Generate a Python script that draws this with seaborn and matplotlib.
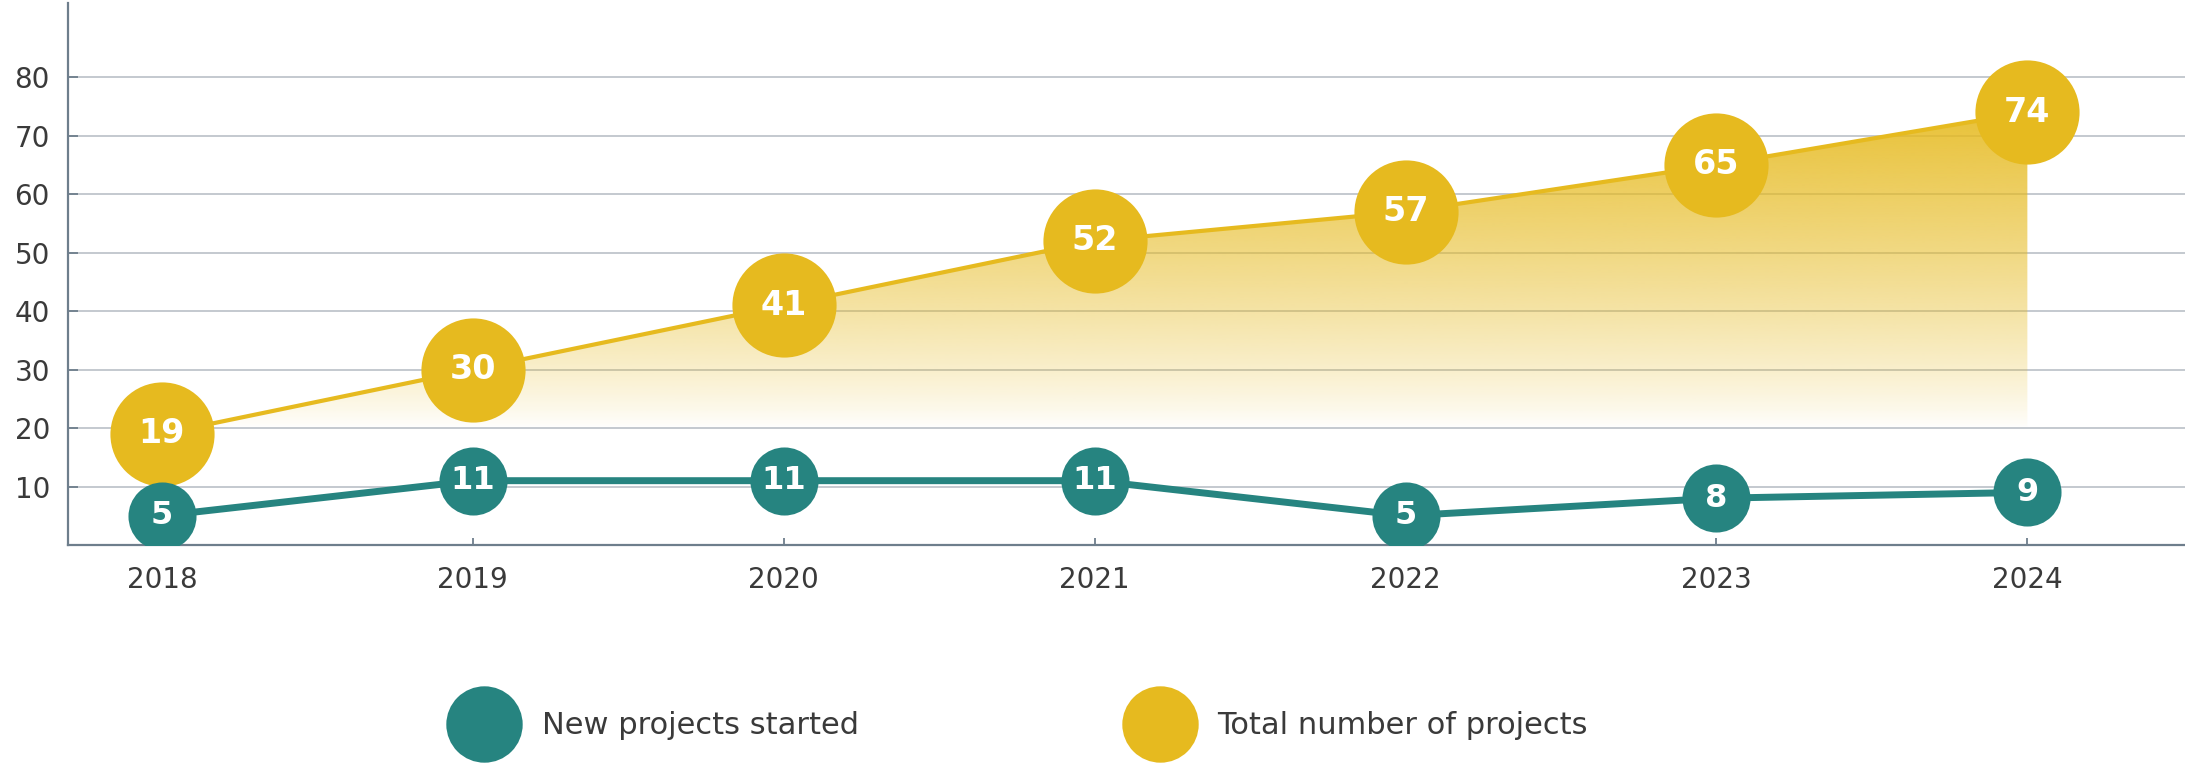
import matplotlib
matplotlib.use("Agg")
import matplotlib.pyplot as plt
from matplotlib.lines import Line2D
import seaborn as sns
import numpy as np
import pandas as pd

# data
years = [2018, 2019, 2020, 2021, 2022, 2023, 2024]
new_projects = [5, 11, 11, 11, 5, 8, 9]
total_projects = [19, 30, 41, 52, 57, 65, 74]
y_ticks = [10, 20, 30, 40, 50, 60, 70, 80]
series_names = ["New projects started", "Total number of projects"]

TEAL = "#268480"
GOLD = "#E6BA1F"
AXIS = "#6E7E8C"
GRID = "#BFC5CC"
TEXT = "#3A3A3A"

df = pd.DataFrame({"year": years, "new": new_projects, "total": total_projects})

sns.set_theme(style="white")
plt.rcParams["font.family"] = ["DejaVu Sans"]

fig = plt.figure(figsize=(21.85, 7.65), dpi=100)
ax = fig.add_axes([68 / 2185, 1 - 545 / 765, (2185 - 68) / 2185, (545 - 3) / 765])

# gradient fill under the total line
poly = ax.fill_between(df["year"], df["total"], 0, color="none", lw=0)
yy = np.linspace(0, 80, 300)
alpha = np.clip((yy - 20) / (75 - 20), 0, 1) ** 0.8 * 0.9
rgb = matplotlib.colors.to_rgb(GOLD)
img = np.zeros((len(yy), 2, 4))
img[..., 0], img[..., 1], img[..., 2] = rgb
img[..., 3] = alpha[:, None]
im = ax.imshow(img, extent=[years[0], years[-1], 0, 80], origin="lower",
               aspect="auto", zorder=1, interpolation="bilinear")
im.set_clip_path(poly.get_paths()[0], transform=ax.transData)

# lines with big markers
sns.lineplot(data=df, x="year", y="total", ax=ax, color=GOLD, linewidth=3,
             marker="o", markersize=75, markeredgewidth=0, zorder=3)
sns.lineplot(data=df, x="year", y="new", ax=ax, color=TEAL, linewidth=5,
             marker="o", markersize=49, markeredgewidth=0, zorder=5)

for x, v in zip(df["year"], df["total"]):
    ax.text(x, v, str(v), ha="center", va="center", color="white",
            fontsize=24, fontweight="bold", zorder=4)
for x, v in zip(df["year"], df["new"]):
    ax.text(x, v, str(v), ha="center", va="center", color="white",
            fontsize=23, fontweight="bold", zorder=6)

# axes styling
ax.set_xlim(2018 - 0.302, 2018 + 6.507)
ax.set_ylim(0, 92.7)
ax.set_xticks(years)
ax.set_xticklabels([str(y) for y in years])
ax.set_yticks(y_ticks)
ax.set_xlabel("")
ax.set_ylabel("")
ax.set_axisbelow(True)
ax.yaxis.grid(True, color=GRID, linewidth=1.3)
ax.xaxis.grid(False)
for side in ["top", "right"]:
    ax.spines[side].set_visible(False)
for side in ["left", "bottom"]:
    ax.spines[side].set_color(AXIS)
    ax.spines[side].set_linewidth(1.6)
ax.tick_params(axis="y", direction="in", length=7, width=1.3, color=AXIS,
               labelsize=20, labelcolor=TEXT, pad=13, left=True)
ax.tick_params(axis="x", direction="in", length=5, width=1.3, color=AXIS,
               labelsize=20, labelcolor=TEXT, pad=15, bottom=True)
ax.patch.set_alpha(0)

# legend: one entry each, placed under the chart
legend_y = 1 - 726 / 765
for name, col, x0 in [(series_names[0], TEAL, 456 / 2185), (series_names[1], GOLD, 1132 / 2185)]:
    h = Line2D([], [], marker="o", ls="none", markersize=55,
               markerfacecolor=col, markeredgewidth=0)
    fig.legend(handles=[h], labels=[name], loc="center left",
               bbox_to_anchor=(x0, legend_y), frameon=False, fontsize=22,
               labelcolor=TEXT, handlelength=1.8, handletextpad=1.0,
               borderpad=0, borderaxespad=0)

fig.savefig("out.png", dpi=100)
